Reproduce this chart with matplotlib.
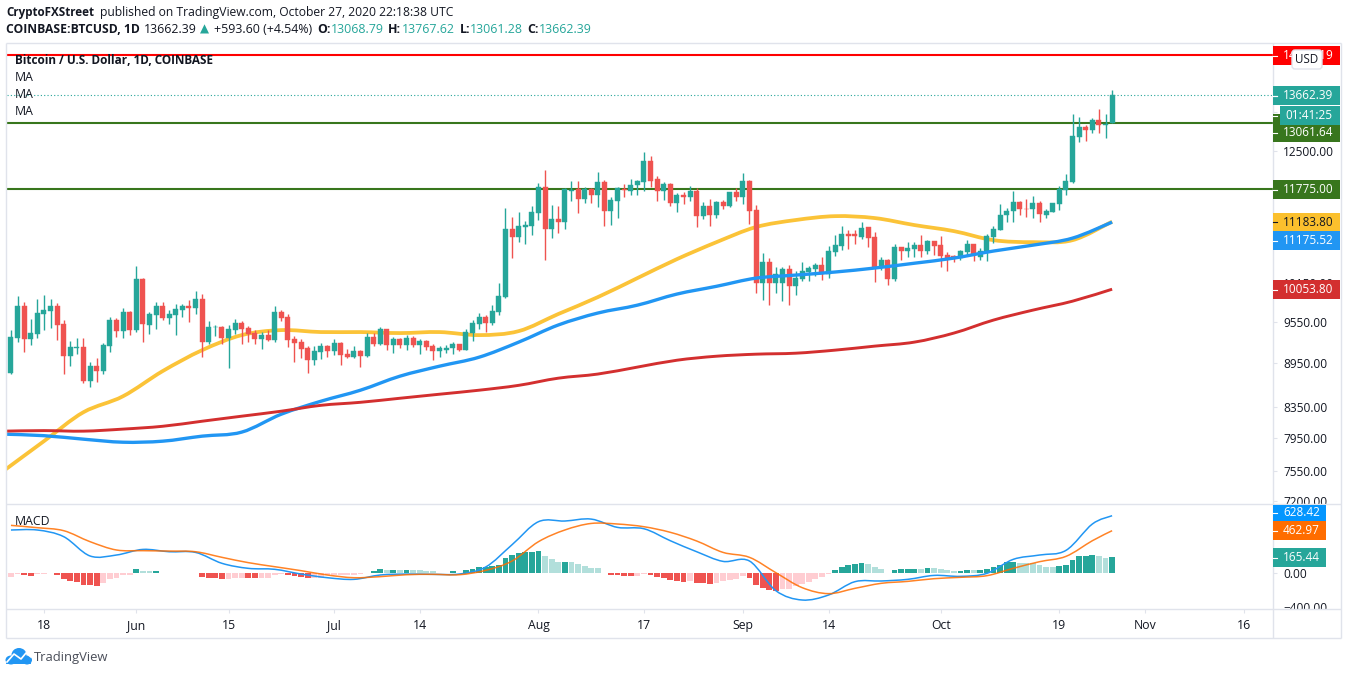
import numpy as np
import pandas as pd
import matplotlib
matplotlib.use("Agg")
import matplotlib.pyplot as plt
from matplotlib.patches import Rectangle, FancyBboxPatch, Ellipse, Polygon, PathPatch
from matplotlib.path import Path
from matplotlib.ticker import NullLocator

plt.rcParams["font.family"] = ["Open Sans", "DejaVu Sans"]

# Daily candles, 13 May to 27 Oct 2020
start_date = "2020-05-13"
opens = [
    8812, 9308, 9790, 9298, 9367, 9668, 9714, 9790, 9516, 9051,
    9167, 9177, 8701, 8905, 8835, 9191, 9576, 9417, 9698, 9427,
    10214, 9501, 9653, 9790, 9606, 9653, 9729, 9790, 9760, 9897,
    9249, 9467, 9472, 9308, 9427, 9531, 9457, 9382, 9293, 9352,
    9278, 9698, 9622, 9293, 9249, 9157, 8989, 9100, 9187, 9114,
    9235, 9080, 9037, 9123, 9051, 9318, 9220, 9442, 9206, 9293,
    9206, 9308, 9206, 9264, 9187, 9114, 9133, 9157, 9220, 9133,
    9382, 9516, 9622, 9531, 9700, 9930, 11052, 10914, 11087, 11105,
    11336, 11808, 11052, 11229, 11177, 11740, 11770, 11590, 11770, 11660,
    11900, 11370, 11553, 11770, 11740, 11840, 11905, 12300, 11960, 11740,
    11860, 11515, 11660, 11625, 11740, 11290, 11460, 11310, 11530, 11460,
    11725, 11625, 11925, 11389, 10150, 10490, 10150, 10150, 10378, 10100,
    10215, 10330, 10378, 10445, 10295, 10660, 10762, 10960, 10965, 10920,
    11087, 10920, 10412, 10525, 10215, 10745, 10676, 10710, 10780, 10676,
    10845, 10780, 10608, 10590, 10558, 10660, 10795, 10575, 10660, 10920,
    11035, 11300, 11370, 11535, 11415, 11405, 11515, 11300, 11354, 11495,
    11752, 11905, 12780, 12983, 12921, 13126, 13023, 13068.79,
]
highs = [
    9427, 9945, 9851, 9586, 9892, 9961, 9892, 9836, 9576, 9264,
    9303, 9308, 8970, 9018, 9230, 9627, 9601, 9760, 9714, 10427,
    10231, 9698, 9851, 9851, 9729, 9821, 9821, 9882, 10025, 9977,
    9561, 9501, 9487, 9501, 9591, 9561, 9487, 9427, 9397, 9427,
    9790, 9729, 9668, 9338, 9293, 9187, 9187, 9235, 9206, 9293,
    9249, 9148, 9187, 9138, 9382, 9382, 9472, 9442, 9323, 9308,
    9352, 9338, 9293, 9278, 9220, 9187, 9206, 9249, 9220, 9442,
    9576, 9678, 9653, 9803, 10150, 11425, 11265, 11354, 11195, 11460,
    11885, 12130, 11478, 11460, 11790, 11925, 11925, 11808, 11790, 12100,
    11941, 11625, 11808, 11860, 11970, 11941, 12480, 12400, 12025, 11900,
    11885, 11700, 11720, 11825, 11790, 11530, 11590, 11553, 11570, 11725,
    11791, 12080, 11941, 11478, 10640, 10558, 10410, 10410, 10445, 10345,
    10490, 10430, 10480, 10575, 10762, 10947, 11105, 11035, 11035, 11175,
    11087, 11000, 10575, 10540, 10795, 10745, 10828, 10828, 10948, 10862,
    10845, 10940, 10660, 10608, 10692, 10862, 10795, 10727, 10965, 11105,
    11495, 11425, 11733, 11553, 11590, 11650, 11553, 11405, 11515, 11825,
    12050, 13250, 13190, 13020, 13170, 13355, 13250, 13767.62,
]
lows = [
    8793, 9249, 9104, 9210, 9308, 9427, 9457, 9278, 8793, 8905,
    9077, 8673, 8620, 8682, 8793, 9104, 9323, 9308, 9352, 9397,
    9249, 9367, 9447, 9576, 9516, 9352, 9622, 9546, 9673, 9037,
    9220, 9338, 9220, 8877, 9367, 9220, 9249, 9220, 9148, 9264,
    9249, 9561, 9177, 8960, 9018, 8808, 8917, 9003, 9037, 9066,
    8919, 9018, 9022, 8891, 9037, 9187, 9206, 9133, 9099, 9157,
    9133, 9177, 9080, 9133, 8989, 9037, 9099, 9080, 9114, 9133,
    9264, 9442, 9397, 9502, 9652, 9914, 10558, 10828, 10794, 10947,
    11212, 10525, 10895, 10983, 11052, 11553, 11335, 11510, 11510, 11440,
    11105, 11124, 11247, 11625, 11660, 11660, 11740, 11808, 11553, 11570,
    11460, 11354, 11495, 11553, 11087, 11229, 11105, 11247, 11405, 11440,
    11553, 11495, 11140, 9995, 9882, 9805, 9995, 9867, 9805, 9960,
    10182, 10182, 10260, 10198, 10230, 10590, 10692, 10710, 10790, 10885,
    10740, 10165, 10361, 10120, 10182, 10525, 10575, 10575, 10575, 10630,
    10608, 10412, 10345, 10490, 10525, 10608, 10510, 10525, 10510, 10810,
    11035, 11177, 11177, 11300, 11265, 11247, 11177, 11247, 11354, 11389,
    11660, 11885, 12680, 12690, 12860, 12860, 12760, 13061.28,
]
closes = [
    9318, 9790, 9298, 9377, 9678, 9729, 9790, 9506, 9051, 9172,
    9177, 8701, 8905, 8835, 9206, 9576, 9412, 9698, 9427, 10214,
    9516, 9668, 9790, 9606, 9668, 9744, 9790, 9760, 9897, 9249,
    9472, 9472, 9308, 9442, 9531, 9442, 9367, 9293, 9352, 9278,
    9698, 9606, 9278, 9235, 9148, 8989, 9114, 9187, 9114, 9235,
    9066, 9037, 9123, 9051, 9318, 9220, 9442, 9206, 9293, 9206,
    9308, 9206, 9264, 9177, 9114, 9157, 9167, 9220, 9133, 9397,
    9531, 9622, 9531, 9712, 9945, 11052, 10914, 11105, 11124, 11354,
    11808, 11052, 11229, 11177, 11770, 11760, 11590, 11770, 11660, 11900,
    11370, 11570, 11791, 11760, 11840, 11925, 12300, 11925, 11740, 11860,
    11515, 11660, 11625, 11740, 11290, 11460, 11310, 11530, 11460, 11725,
    11625, 11925, 11370, 10150, 10490, 10150, 10295, 10378, 10100, 10230,
    10345, 10395, 10445, 10295, 10676, 10777, 10965, 10940, 10940, 11070,
    10900, 10412, 10525, 10215, 10737, 10676, 10727, 10780, 10676, 10850,
    10762, 10590, 10558, 10558, 10676, 10795, 10608, 10676, 10930, 11052,
    11300, 11370, 11535, 11405, 11405, 11515, 11318, 11370, 11515, 11770,
    11925, 12800, 12983, 12921, 13126, 13023, 13044, 13662.39,
]

# Moving averages, read every 6th candle
ma_days = [-1, 5, 11, 17, 23, 29, 35, 41, 47, 53, 59, 65, 71, 77, 83,
           89, 95, 101, 107, 113, 119, 125, 131, 137, 143, 149, 155, 161, 167]
ma_yellow = [7557, 7912, 8282, 8493, 8836, 9133, 9352, 9426, 9397, 9397, 9382, 9397, 9352, 9411, 9668,
             9929, 10231, 10542, 10828, 11089, 11212, 11281, 11247, 11124, 11018, 10862, 10828, 10862, 11183.80]
ma_blue = [8000, 7981, 7937, 7899, 7912, 7975, 8026, 8256, 8426, 8574, 8766, 8905, 9032, 9249, 9502,
           9683, 9804, 9977, 10100, 10231, 10280, 10330, 10395, 10474, 10559, 10677, 10777, 10897, 11175.52]
ma_red = [8038, 8045, 8038, 8064, 8100, 8165, 8230, 8295, 8372, 8412, 8466, 8520, 8574, 8640, 8738,
          8795, 8892, 8989, 9046, 9075, 9089, 9133, 9191, 9249, 9382, 9576, 9728, 9866, 10053.80]

# Horizontal levels
level_red = 14541
level_green = [13061.64, 11775.00]
last_price = 13662.39

# MACD lines, read every 4th candle
macd_days = list(range(0, 165, 4)) + [167]
macd_line = [442, 442, 373, 173, 183, 241, 217, 210, 97, 45, 35, -14, -52, -69, -24, -14, -17, -14, 59, 290, 528,
             535, 555, 469, 455, 331, 217, 117, 121, -186, -283, -231, -93, -86, -69, -28, -38, -7, 138, 183, 231, 504, 590]
signal_line = [490, 466, 435, 321, 235, 228, 224, 217, 159, 104, 62, 21, -24, -52, -41, -21, -17, -21, 24, 121, 321,
               442, 510, 504, 476, 418, 328, 210, 159, 0, -155, -217, -162, -110, -90, -62, -48, -31, 45, 114, 169, 331, 435]
macd_hist = [
    -45, -14, -24, -35, -14, -10, -5, -24, -66, -86,
    -93, -126, -128, -138, -107, -66, -55, -26, -24, 38,
    17, 15, 17, -3, -4, -5, -3, -4, -2, -45,
    -53, -55, -66, -64, -56, -54, -55, -57, -55, -53,
    -24, -14, -24, -35, -45, -55, -54, -52, -26, -25,
    -24, -23, -22, -14, -5, 17, 38, 30, 32, 30,
    32, 30, 28, 18, 16, -3, -4, 17, -3, 28,
    38, 57, 59, 69, 79, 152, 183, 204, 210, 212,
    224, 172, 141, 112, 114, 110, 90, 69, 48, 46,
    -3, -24, -26, -33, -35, -33, -14, -24, -45, -55,
    -76, -86, -97, -86, -105, -107, -117, -107, -86, -76,
    -66, -35, -55, -128, -159, -179, -190, -171, -167, -138,
    -117, -97, -66, -45, -14, 28, 59, 79, 90, 100,
    90, 59, 38, -3, 28, 35, 37, 38, 36, 48,
    46, 38, 28, 17, 18, 28, 26, 28, 38, 59,
    79, 108, 110, 102, 101, 100, 79, 60, 58, 69,
    79, 131, 170, 172, 183, 172, 152, 165,
]

price_ticks = [13300, 12500, 10150, 9550, 8950, 8350, 7950, 7550, 7200]
time_ticks = ["2020-05-18", "2020-06-01", "2020-06-15", "2020-07-01", "2020-07-14", "2020-08-01", "2020-08-17",
              "2020-09-01", "2020-09-14", "2020-10-01", "2020-10-19", "2020-11-01", "2020-11-16"]
time_labels = ["18", "Jun", "15", "Jul", "14", "Aug", "17", "Sep", "14", "Oct", "19", "Nov", "16"]

UP = "#26a69a"
DOWN = "#ef5350"
GRID = "#e0e3eb"
DARK = "#131722"
W, H = 1348, 675

fig = plt.figure(figsize=(W / 100, H / 100), dpi=100, facecolor="white")


def pane(left, top, right, bottom):
    return fig.add_axes([left / W, 1 - bottom / H, (right - left) / W, (bottom - top) / H])


def smooth_line(axis, xs, ys, **kw):
    # curve through the read points, bezier handles from the neighbours
    xs = np.array(xs, dtype=float)
    ys = np.array(ys, dtype=float)
    verts = [(xs[0], ys[0])]
    codes = [Path.MOVETO]
    for i in range(len(xs) - 1):
        j0, j1 = max(i - 1, 0), min(i + 2, len(xs) - 1)
        verts.append((xs[i] + (xs[i + 1] - xs[j0]) / 6, ys[i] + (ys[i + 1] - ys[j0]) / 6))
        verts.append((xs[i + 1] - (xs[j1] - xs[i]) / 6, ys[i + 1] - (ys[j1] - ys[i]) / 6))
        verts.append((xs[i + 1], ys[i + 1]))
        codes += [Path.CURVE4] * 3
    axis.add_patch(PathPatch(Path(verts, codes), fill=False, capstyle="butt", **kw))


ax = pane(7, 44, 1273, 504)
ax2 = pane(7, 505, 1273, 609)
ui = fig.add_axes([0, 0, 1, 1], facecolor="none")
ui.set_xlim(0, W)
ui.set_ylim(H, 0)
ui.axis("off")

days = np.arange(len(opens))
o, h, l, c = map(np.array, (opens, highs, lows, closes))
colors = np.where(c >= o, UP, DOWN)

# Price pane
ax.set_yscale("log")
ax.set_xlim(-0.6, 191.4)
ax.set_ylim(7166, 14798)
ax.axhline(level_red, color="#ff0000", lw=1.5, zorder=1)
for lev in level_green:
    ax.axhline(lev, color="#38761d", lw=1.5, zorder=1)
ax.axhline(last_price, color=UP, lw=0.8, ls=(0, (1, 2)), zorder=1)
smooth_line(ax, ma_days, ma_yellow, edgecolor="#fbc02d", lw=2.7, alpha=0.95, zorder=2)
ax.vlines(days, l, h, colors=colors, lw=1.0, zorder=3)
ax.bar(days, np.abs(c - o), bottom=np.minimum(o, c), width=0.76, color=colors, edgecolor=colors, lw=0.3, zorder=3)
smooth_line(ax, ma_days, ma_blue, edgecolor="#2196f3", lw=2.4, zorder=4)
smooth_line(ax, ma_days, ma_red, edgecolor="#d32f2f", lw=2.1, zorder=4)

ax.yaxis.tick_right()
ax.yaxis.set_minor_locator(NullLocator())
ax.set_yticks(price_ticks)
ax.set_yticklabels([f"{t:.2f}" for t in price_ticks])
ax.yaxis.set_minor_formatter(plt.NullFormatter())
ax.tick_params(axis="y", length=3, width=0.8, color=GRID, pad=4.5, labelsize=8.6, labelcolor=DARK)
ax.tick_params(axis="x", bottom=False, labelbottom=False)

# MACD pane
ax2.set_xlim(-0.6, 191.4)
ax2.set_ylim(-376, 701)
ax2.bar(days, macd_hist, width=0.88, color=[
    (("#b2dfdb" if i == 0 or v <= macd_hist[i - 1] else UP) if v >= 0 else
     ("#ffcdd2" if i == 0 or v >= macd_hist[i - 1] else DOWN))
    for i, v in enumerate(macd_hist)], zorder=2)
smooth_line(ax2, macd_days, macd_line, edgecolor="#2196f3", lw=1.1, zorder=3)
smooth_line(ax2, macd_days, signal_line, edgecolor="#ff6d00", lw=1.1, alpha=0.85, zorder=3)
ax2.yaxis.tick_right()
ax2.set_yticks([0, 400])
ax2.set_yticklabels(["0.00", "400.00"])
ax2.tick_params(axis="y", length=3, width=0.8, color=GRID, pad=4.5, labelsize=8.6, labelcolor=DARK)
first_day = pd.Timestamp(start_date)
ax2.set_xticks([(pd.Timestamp(t) - first_day).days for t in time_ticks])
ax2.set_xticklabels(time_labels)
ax2.tick_params(axis="x", length=3, width=0.8, color=GRID, pad=4.5, labelsize=8.8, labelcolor=DARK)

for a in (ax, ax2):
    for s in a.spines.values():
        s.set_visible(False)

ui.text(1283, 608.5, "\u2212400.00", fontsize=8.6, color=DARK, va="center", zorder=2)

# Covers that cut the axis labels off at the pane edges
ui.add_patch(Rectangle((1274, 504.5), 66, 10, fc="white", ec="none", zorder=4))
ui.add_patch(Rectangle((1274, 609.5), 66, 27, fc="white", ec="none", zorder=4))

# Frame
for x0, y0, x1, y1 in [(6, 43, 1341, 43), (6, 504, 1341, 504), (6, 609, 1341, 609), (6, 638, 1341, 638),
                       (6, 43, 6, 638), (1273, 43, 1273, 638), (1341, 43, 1341, 638)]:
    ui.plot([x0, x1], [y0, y1], color=GRID, lw=1.0, zorder=5, solid_capstyle="butt")


def badge(y0, y1, text, color, right=1340, left=1273, text_color="white", y_text=None, x_text=1283):
    ui.add_patch(Rectangle((left, y0), right - left, y1 - y0, fc=color, ec="none", zorder=6))
    yc = (y0 + y1) / 2 if y_text is None else y_text
    ui.plot([1273, 1277], [yc, yc], color=text_color, lw=0.8, zorder=7)
    ui.text(x_text, yc, text, fontsize=8.5, color=text_color, va="center", ha="left", zorder=7)


badge(46, 65, "14541.19", "#ff0000")
badge(114, 142, "13061.64", "#38761d", y_text=132.5)
badge(86, 105, "13662.39", UP)
badge(106, 125, "01:41:25", UP, left=1280, x_text=1285)
ui.plot([1273, 1277], [95.5, 95.5], color="white", lw=0.8, zorder=7)
badge(180, 199, "11775.00", "#38761d")
badge(213, 231, "11183.80", "#fbc02d", text_color=DARK)
badge(231, 250, "11175.52", "#2196f3")
badge(280, 299, "10053.80", "#d32f2f")
badge(505, 521, "628.42", "#0496ff", right=1326)
badge(521, 540, "462.97", "#ff6d00", right=1326)
badge(548, 567, "165.44", UP, right=1326)

# USD button
ui.add_patch(FancyBboxPatch((1294, 52), 26, 15, boxstyle="round,pad=2,rounding_size=3", fc="white", ec=GRID,
                            lw=1, zorder=8))
ui.text(1307, 59.5, "USD", fontsize=8.4, color=DARK, ha="center", va="center", zorder=9)

# Legend in the pane
ui.text(15, 60.5, "Bitcoin / U.S. Dollar, 1D, COINBASE", fontsize=8.5, fontweight="bold", color=DARK, va="center")
for yy in (77.5, 94.5, 111.5):
    ui.text(15, yy, "MA", fontsize=8.8, color=DARK, va="center")
ui.text(15, 521.5, "MACD", fontsize=8.8, color=DARK, va="center")

# Header
ui.text(6, 12.5, "CryptoFXStreet", fontsize=8.4, fontweight="bold", color=DARK, va="center")
ui.text(99.5, 12.5, "published on TradingView.com, October 27, 2020 22:18:38 UTC", fontsize=8.75, color=DARK, va="center")
ui.text(6, 29.5, "COINBASE:BTCUSD, 1D", fontsize=8.7, fontweight="bold", color=DARK, va="center")
ui.text(144, 29.5, "13662.39", fontsize=8.9, color=DARK, va="center")
ui.text(200, 29.5, "\u25b2", fontsize=8.5, color=UP, va="center", family="DejaVu Sans")
ui.text(214, 29.5, "+593.60 (+4.54%)", fontsize=8.9, color=DARK, va="center")
for x_key, key, x_val, val in [(317, "O:", 331, "13068.79"), (388, "H:", 402, "13767.62"),
                               (460, "L:", 470, "13061.28"), (527, "C:", 539, "13662.39")]:
    ui.text(x_key, 29.5, key, fontsize=8.9, fontweight="bold", color=DARK, va="center")
    ui.text(x_val, 29.5, val, fontsize=8.9, color=UP, va="center")

# TradingView logo
for cx, cy, ew, eh in [(11, 660, 11, 9), (19, 655, 15, 14), (27, 660, 10, 9)]:
    ui.add_patch(Ellipse((cx, cy), ew, eh, fc="#2196f3", ec="none", zorder=3))
ui.add_patch(Polygon([(7, 657), (30, 657), (31, 664), (6, 664)], fc="#2196f3", ec="none", zorder=3))
ui.plot([7, 14, 21, 26, 31], [662, 654, 659, 653, 657], color="white", lw=1.2, zorder=4)
ui.text(34, 657, "TradingView", fontsize=9.4, color="#4a4e59", va="center")

fig.savefig("out.png", dpi=100, facecolor="white")
